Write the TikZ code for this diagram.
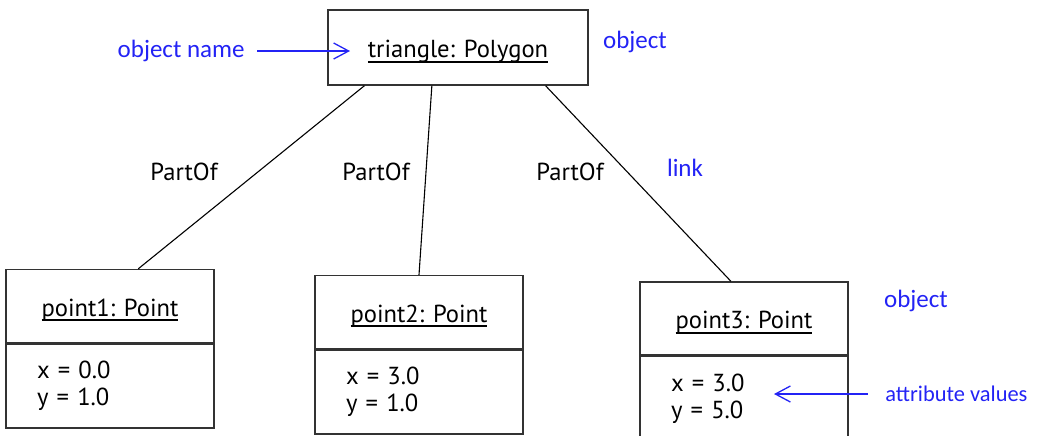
\documentclass[tikz,border=0pt]{standalone}
\usepackage{fontspec}
\setmainfont{PT Sans}
\newfontfamily\notefont{Carlito}
\usetikzlibrary{arrows.meta,calc,positioning}
\definecolor{noteblue}{RGB}{35,35,245}
\newcommand{\objname}[1]{\setbox0\hbox{#1}\rlap{\rule[-2.5pt]{\wd0}{1pt}}\box0}
\tikzset{
  objbox/.style={draw=black!80, line width=0.7pt, inner sep=0pt, minimum width=104pt, minimum height=36.5pt, text height=10pt, text depth=0pt},
  attrbox/.style={draw=black!80, line width=0.7pt, anchor=north, inner xsep=15.5pt, inner ysep=0pt, minimum width=104pt, minimum height=42pt, text width=73pt, align=left},
  note/.style={text=noteblue, inner sep=0pt, font=\notefont\fontsize{12.5}{13}\selectfont},
  notearrow/.style={draw=noteblue, line width=0.65pt, -{Straight Barb[length=7.5pt,width=8pt]}},
  link/.style={draw=black, line width=0.55pt},
}
\begin{document}
\begin{tikzpicture}[x=0.5pt, y=-0.5pt, font=\fontsize{12.3}{13.5}\selectfont]
  \useasboundingbox (0,0) rectangle (1037,435);
  \clip (0,0) rectangle (1037,435);
  \node[objbox, minimum width=130pt, minimum height=37.5pt] (triangle) at (458,47.5) {\objname{triangle: Polygon}};
  \node[objbox] (pt1) at (110,306) {\objname{point1: Point}};
  \node[attrbox] (pt1attr) at (pt1.south) {x = 0.0\\y = 1.0};
  \node[objbox] (pt2) at (419,312) {\objname{point2: Point}};
  \node[attrbox] (pt2attr) at (pt2.south) {x = 3.0\\y = 1.0};
  \node[objbox] (pt3) at (744,318.5) {\objname{point3: Point}};
  \node[attrbox] (pt3attr) at (pt3.south) {x = 3.0\\y = 5.0};
  \draw[link] ($(triangle.south west)!0.142!(triangle.south east)$) -- ($(pt1.north west)!0.635!(pt1.north east)$);
  \draw[link] ($(triangle.south west)!0.40!(triangle.south east)$) -- ($(pt2.north west)!0.5!(pt2.north east)$);
  \draw[link] ($(triangle.south west)!0.835!(triangle.south east)$) -- ($(pt3.north west)!0.4375!(pt3.north east)$);
  \node (partof1) at (184,172) {PartOf};
  \node (partof2) at (376,172) {PartOf};
  \node (partof3) at (570,172) {PartOf};
  \node[note, anchor=east] (namenote) at (245,51) {object name};
  \coordinate (nametip) at (350,51);
  \draw[notearrow, shorten <=6pt] (namenote) -- (nametip);
  \node[note] (objnote1) at (635,42) {object};
  \node[note] (linknote) at (685,168) {link};
  \node[note] (objnote2) at (916,301) {object};
  \node[note, anchor=west, font=\notefont\fontsize{11.2}{12}\selectfont] (attrnote) at (885,394) {attribute values};
  \coordinate (attrtip) at (774,394);
  \draw[notearrow, shorten <=8.5pt] (attrnote) -- (attrtip);
\end{tikzpicture}
\end{document}
